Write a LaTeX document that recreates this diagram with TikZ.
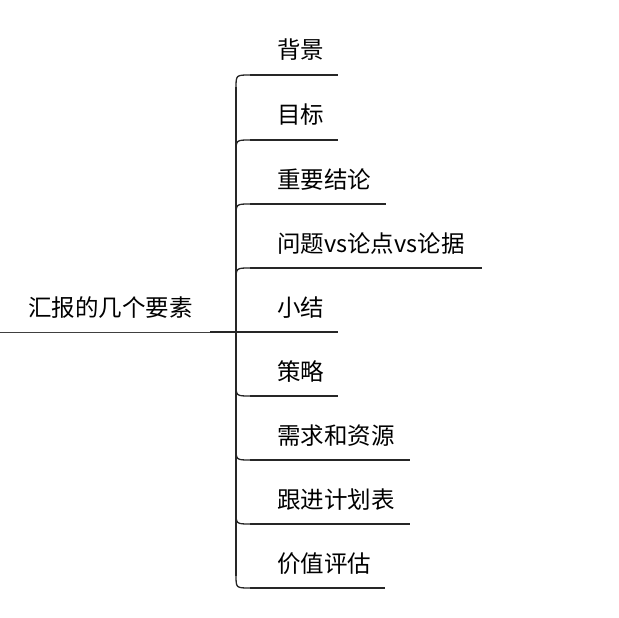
\documentclass[tikz,border=0pt]{standalone}
\usepackage{fontspec}
\newfontfamily\cjk{Noto Sans CJK SC}
\begin{document}
\begin{tikzpicture}[x=1pt,y=-1pt,
  lbl/.style={anchor=base west,inner sep=0pt,font=\cjk\fontsize{23.5}{26}\selectfont,text=black},
  stem/.style={line width=1.3pt,draw=black!85},
  arm/.style={line width=1.8pt,draw=black!85}]
\useasboundingbox[fill=white] (0,0) rectangle (619,618);
% root
\node[lbl] (root) at (28,316) {汇报的几个要素};
\coordinate (r0) at (0,332);
\coordinate (hub) at (236,332);
\draw[line width=1pt,draw=black!75] (r0) -- (210,332);
\draw[arm] (210,332) -- (hub);
% vertical stem
\coordinate (top) at (236,87);
\coordinate (bot) at (236,576);
\draw[stem] (top) -- (bot);
% branches
\foreach \name/\txt/\y/\xe in {
  b1/背景/75/338, b2/目标/140/338, b3/重要结论/204/386, b4/问题vs论点vs论据/268/482}{
  \node[lbl] (\name) at (277,\y-16) {\txt};
  \coordinate (\name e) at (\xe,\y);
  \draw[stem] (236,\y+13) .. controls (236,\y) .. (250,\y);
  \draw[arm] (250,\y) -- (\name e);
}
\node[lbl] (b5) at (277,316) {小结};
\coordinate (b5e) at (338,332);
\draw[arm] (hub) -- (b5e);
\foreach \name/\txt/\y/\xe in {
  b6/策略/396/338, b7/需求和资源/460/410, b8/跟进计划表/524/410, b9/价值评估/588/385}{
  \node[lbl] (\name) at (277,\y-16) {\txt};
  \coordinate (\name e) at (\xe,\y);
  \draw[stem] (236,\y-13) .. controls (236,\y) .. (250,\y);
  \draw[arm] (250,\y) -- (\name e);
}
\end{tikzpicture}
\end{document}
